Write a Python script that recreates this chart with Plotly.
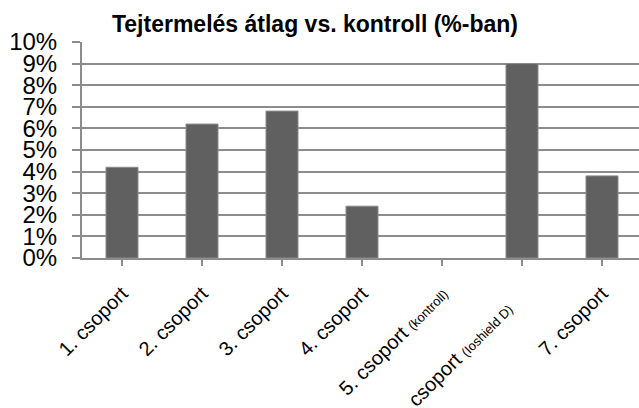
import plotly.graph_objects as go

NB = "\u00a0"
categories = [
    "1. csoport",
    "2. csoport",
    "3. csoport",
    "4. csoport",
    "5. csoport <span style='font-size:13px'>(kontroll)</span>",
    "6. csoport <span style='font-size:13px'>(Ioshield D)" + NB * 6 + "</span>",
    "7. csoport",
]
values_pct = [4.2, 6.2, 6.8, 2.4, 0.0, 9.0, 3.8]
ytick_vals = [0, 1, 2, 3, 4, 5, 6, 7, 8, 9, 10]
ytick_text = [f"{v}%" for v in ytick_vals]
title_text = "Tejtermelés átlag vs. kontroll (%-ban)"

edge_widths = [1 if v > 0 else 0 for v in values_pct]

fig = go.Figure(
    go.Bar(
        x=list(range(len(categories))),
        y=values_pct,
        width=0.4,
        marker=dict(color="#606060", line=dict(color="#8a8a8a", width=edge_widths)),
        hoverinfo="skip",
    )
)

grid_col = "#8c8c8c"
fig.update_layout(
    width=639,
    height=408,
    margin=dict(l=82, r=0, t=42, b=150, autoexpand=False),
    paper_bgcolor="white",
    plot_bgcolor="white",
    font=dict(family="Liberation Sans, Arial, sans-serif", color="#000000"),
    title=dict(
        text=f"<b>{title_text}</b>",
        x=315 / 639, xanchor="center", xref="container",
        y=1 - 24 / 408, yanchor="middle", yref="container",
        font=dict(size=23, color="#000000"),
    ),
    showlegend=False,
)
fig.update_xaxes(
    range=[-0.5, 6.4625],
    tickmode="array",
    tickvals=list(range(len(categories))),
    ticktext=categories,
    tickangle=-45,
    tickfont=dict(size=20),
    showline=True, linecolor=grid_col, linewidth=2,
    ticks="outside", ticklen=6, tickcolor=grid_col, tickwidth=2,
    tickson="boundaries",
    showgrid=False,
    automargin=False,
    ticklabelstandoff=8,
)
fig.update_yaxes(
    range=[0, 10],
    tickmode="array",
    tickvals=ytick_vals,
    ticktext=ytick_text,
    tickfont=dict(size=24),
    showgrid=True, gridcolor=grid_col, gridwidth=2,
    showline=True, linecolor=grid_col, linewidth=2,
    ticks="outside", ticklen=8, tickcolor=grid_col, tickwidth=2,
    zeroline=False,
    automargin=False,
    ticklabelstandoff=10,
)

fig.write_html(
    "out.html",
    config={"displayModeBar": False, "staticPlot": True},
    post_script="document.body.style.margin='0';document.body.style.overflow='hidden';",
)
